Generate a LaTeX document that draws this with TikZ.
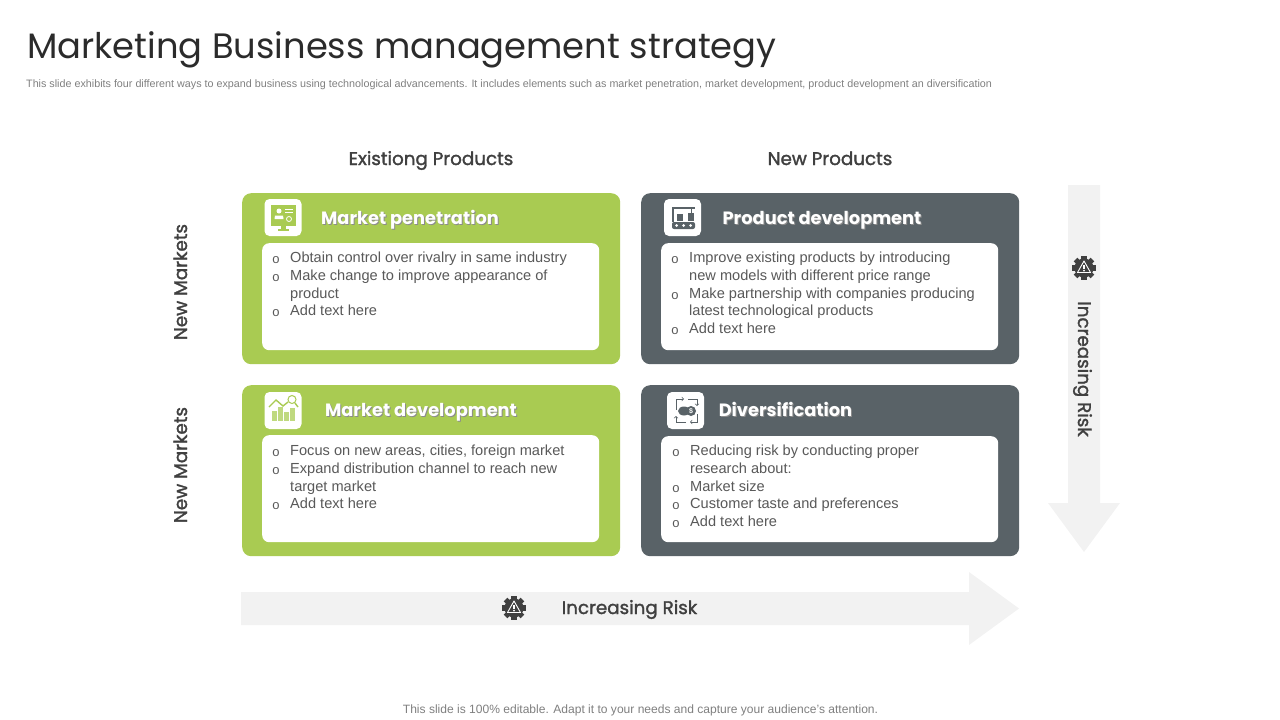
\documentclass[tikz,border=0pt]{standalone}
\usepackage{fontspec}
\setmainfont{Liberation Sans}
\newfontfamily\headfont{Poppins}
\newfontfamily\axisfont[FakeBold=1.6]{Poppins}
\usepackage{tikz}
\definecolor{leaf}{HTML}{A9CB52}
\definecolor{leafpale}{HTML}{BFD97F}
\definecolor{slate}{HTML}{596267}
\definecolor{band}{HTML}{F2F2F2}
\definecolor{ink}{HTML}{404040}
\definecolor{titleink}{HTML}{2B2B2B}
\definecolor{bodygrey}{HTML}{595959}
\definecolor{notegrey}{HTML}{7F7F7F}
\tikzset{
  panel/.style={minimum width=378pt, minimum height=171pt, rounded corners=9pt, inner sep=0pt},
  inset/.style={fill=white, minimum width=337pt, rounded corners=7pt, inner sep=0pt},
  iconbox/.style={fill=white, minimum width=37pt, minimum height=37pt, rounded corners=5pt, inner sep=0pt},
  heading/.style={text=white, anchor=base, font=\headfont\fontsize{17.8}{22}\selectfont\bfseries},
  axislabel/.style={text=ink, anchor=base, font=\axisfont\fontsize{18.3}{22}\selectfont},
  bodytext/.style={text=bodygrey, align=left, inner sep=0pt, font=\fontsize{14.6}{17.7}\selectfont},
}
\newcommand{\bul}{\leavevmode\llap{\raisebox{-1pt}{\fontsize{13}{13}\selectfont o}\hspace{10.5pt}}}
\newcommand{\shadowed}[1]{\leavevmode\rlap{\raisebox{-1pt}{\kern1pt\color{black!45}#1}}#1}
\newcommand{\riskgear}[1]{%
  \begin{scope}[shift={(#1)}]
    \fill[ink] (0,0) circle (9.5pt);
    \foreach \a in {0,45,...,315}
      \fill[ink, rotate=\a] (-2.6,-12) rectangle (2.6,0);
    \draw[white, line width=0.9pt, line join=round] (0,-7) -- (6.5,4.5) -- (-6.5,4.5) -- cycle;
    \fill[white] (-0.9,-3) rectangle (0.9,0.8);
    \fill[white] (0,2.6) circle (1pt);
  \end{scope}}
\begin{document}
\begin{tikzpicture}[x=1pt,y=-1pt]
  \useasboundingbox (0,0) rectangle (1280,720);
  % header
  \node[anchor=base west, inner sep=0pt, text=titleink, font=\headfont\fontsize{35.3}{44}\selectfont] (title) at (27,58) {Marketing Business management strategy};
  \node[anchor=base west, inner sep=0pt, text=notegrey, font=\fontsize{10.75}{12}\selectfont] (subtitle) at (26,87) {This slide exhibits four different ways to expand business using technological advancements. It includes elements such as market penetration, market development, product development an diversification};
  % arrows
  \fill[band] (1068,185) -- (1100,185) -- (1100,503) -- (1120,503) -- (1084,552) -- (1048,503) -- (1068,503) -- cycle;
  \fill[band] (241,592) -- (969,592) -- (969,572) -- (1019,608.5) -- (969,645) -- (969,625) -- (241,625) -- cycle;
  % axis labels
  \node[axislabel] (existing) at (431,165) {Existiong Products};
  \node[axislabel] (newprod) at (830,165) {New Products};
  \node[axislabel, rotate=90] (newmarketa) at (187,282) {New Markets};
  \node[axislabel, rotate=90] (newmarketb) at (187,465) {New Markets};
  \node[axislabel, rotate=-90] (riskdown) at (1078,369) {Increasing Risk};
  \node[axislabel] (riskright) at (629.5,614) {Increasing Risk};
  \riskgear{1084,268}
  \riskgear{514,608}
  % panels
  \node[panel, fill=leaf, anchor=north west] (penetration) at (242,193) {};
  \node[panel, fill=slate, anchor=north west] (product) at (641,193) {};
  \node[panel, fill=leaf, anchor=north west] (development) at (242,385) {};
  \node[panel, fill=slate, anchor=north west] (diversify) at (641,385) {};
  \node[inset, minimum height=107pt, anchor=north west] (penetrationbox) at (262,243) {};
  \node[inset, minimum height=107pt, anchor=north west] (productbox) at (661,243) {};
  \node[inset, minimum height=107pt, anchor=north west] (developmentbox) at (262,435) {};
  \node[inset, minimum height=106pt, anchor=north west] (diversifybox) at (661,436) {};
  % icons
  \node[iconbox] (iconpen) at (283,217.5) {};
  \node[iconbox] (iconprod) at (682.5,217.5) {};
  \node[iconbox] (icondev) at (283,410.5) {};
  \node[iconbox] (icondiv) at (685.5,410.5) {};
  % monitor
  \fill[leaf] (271,205) rectangle (296,226);
  \fill[leaf] (281,226) rectangle (286,229);
  \fill[leaf] (278,229) rectangle (289,231);
  \fill[white] (279,211) circle (2.5pt);
  \fill[white] (274.5,219) -- (275,215.5) -- (283,215.5) -- (283.5,219) -- cycle;
  \draw[white, line width=0.8pt] (285,209) -- (293,209) (285,212) -- (293,212);
  \draw[white, line width=0.8pt] (289,219) circle (2.5pt);
  % conveyor
  \draw[slate, line width=1.2pt] (673,222) -- (673,208) -- (695,208);
  \fill[slate] (677,214) rectangle (683,221);
  \fill[slate] (688,213) rectangle (694,221);
  \draw[slate, line width=1pt] (691,208) -- (691,213);
  \fill[slate, rounded corners=2pt] (672,222) rectangle (695,229);
  \foreach \x in {676.5,683.5,690.5}
    \fill[white] (\x,225.5) circle (1.5pt);
  % chart
  \fill[leafpale] (272,411) rectangle (276.5,421);
  \fill[leafpale] (278,407) rectangle (282.5,421);
  \fill[leafpale] (284,412) rectangle (288.5,421);
  \fill[leafpale] (290,408) rectangle (294.5,421);
  \draw[leaf, line width=1.4pt] (269,407) -- (276,400) -- (283,406) -- (288,402);
  \draw[leaf, line width=1pt] (292,399.5) circle (4pt);
  \draw[leaf, line width=1.4pt] (295,403) -- (298,407);
  % coins
  \draw[slate, line width=0.7pt, ->] (676,410) -- (676,399) -- (684,399);
  \draw[slate, line width=0.7pt, ->] (688,399) -- (697,399) -- (697,406);
  \draw[slate, line width=0.7pt, ->] (697,414) -- (697,422) -- (690,422);
  \draw[slate, line width=0.7pt, ->] (686,422) -- (676,422) -- (676,416);
  \fill[slate] (684,411) ellipse (6pt and 4.5pt);
  \fill[slate] (691,411) circle (5pt);
  \node[inner sep=0pt, text=white, font=\fontsize{7}{8}\selectfont\bfseries] (coinsign) at (691,411) {\$};
  % headings
  \node[heading] (headpen) at (410,224) {\shadowed{Market penetration}};
  \node[heading] (headprod) at (822,224) {\shadowed{Product development}};
  \node[heading] (headdev) at (421,416) {\shadowed{Market development}};
  \node[heading] (headdiv) at (785.5,416) {\shadowed{Diversification}};
  % lists
  \node[bodytext, anchor=north west] (listpen) at (290,252) {\bul Obtain control over rivalry in same industry\\\bul Make change to improve appearance of\\product\\\bul Add text here};
  \node[bodytext, anchor=north west] (listprod) at (689,252) {\bul Improve existing products by introducing\\new models with different price range\\\bul Make partnership with companies producing\\latest technological products\\\bul Add text here};
  \node[bodytext, anchor=north west] (listdev) at (290,445) {\bul Focus on new areas, cities, foreign market\\\bul Expand distribution channel to reach new\\target market\\\bul Add text here};
  \node[bodytext, anchor=north west] (listdiv) at (690,445) {\bul Reducing risk by conducting proper\\research about:\\\bul Market  size\\\bul Customer taste and preferences\\\bul Add text here};
  % footer
  \node[inner sep=0pt, text=notegrey, font=\fontsize{12.05}{14}\selectfont] (footer) at (640.5,710) {This slide is 100\% editable. Adapt it to your needs and capture your audience's attention.};
\end{tikzpicture}
\end{document}
